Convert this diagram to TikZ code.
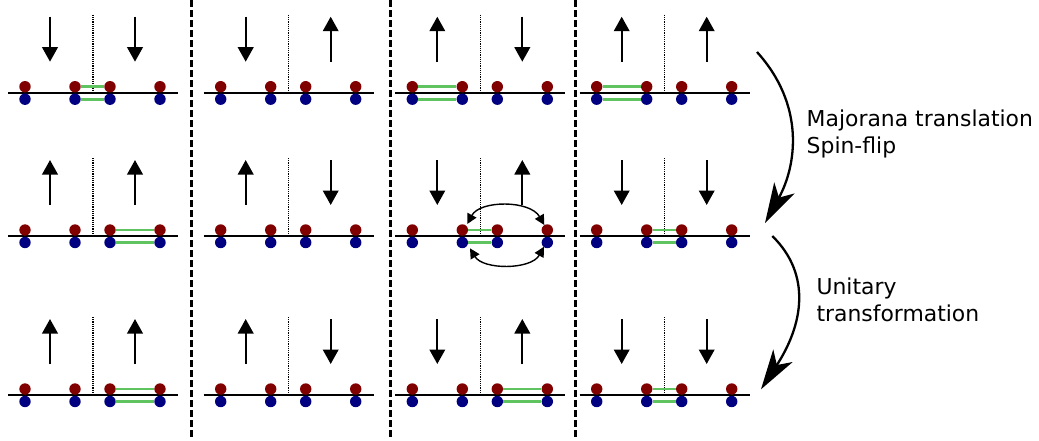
\documentclass[tikz,border=0pt]{standalone}
\usepackage{fontspec}
\setmainfont{DejaVu Sans}
\usetikzlibrary{arrows.meta}
\definecolor{dotred}{RGB}{128,0,0}
\definecolor{dotblue}{RGB}{0,0,128}
\definecolor{pairgreen}{RGB}{95,195,95}
\begin{document}
\begin{tikzpicture}[x=1pt,y=-1pt,
  chainline/.style={line width=2.3pt},
  sepline/.style={line width=2.8pt, dash pattern=on 7pt off 3pt},
  midline/.style={line width=1.5pt, dash pattern=on 1.2pt off 1pt},
  pairline/.style={pairgreen, line width=2.8pt},
  reddot/.style={circle, fill=dotred, inner sep=0pt, minimum size=11.4pt},
  bluedot/.style={circle, fill=dotblue, inner sep=0pt, minimum size=11.4pt},
  spinarrow/.style={line width=2.2pt, -{Triangle[width=15.5pt,length=14.5pt]}},
  swaparrow/.style={line width=1.4pt, {Triangle[width=10pt,length=10pt]}-{Triangle[width=10pt,length=10pt]}},
  flowarrow/.style={line width=2.3pt, -{Stealth[length=40pt,width=23pt,inset=11pt]}},
  lbl/.style={inner sep=0pt, anchor=base west, font=\fontsize{21.9}{26}\selectfont}
]
\useasboundingbox (0,0) rectangle (1039,440);
% separators
\foreach \sx/\nm in {191.7/s1, 390.7/s2, 575.5/s3} {
  \coordinate (\nm t) at (\sx,0);
  \coordinate (\nm b) at (\sx,440);
  \draw[sepline] (\nm t) -- (\nm b);
}
% panels
\foreach \name/\xx/\yy/\sl/\sr/\pa/\pb in {
 a/25/92.7/d/d/2/3, b/220.7/92.7/d/u/0/0, c/412.3/92.7/u/d/1/2, d/596.7/92.7/u/u/1/2,
 e/25/236/u/u/3/4, f/220.7/236/u/d/0/0, g/412.3/236/d/u/2/3, h/596.7/236/d/d/2/3,
 i/25/395/u/u/3/4, j/220.7/395/u/d/0/0, k/412.3/395/d/u/3/4, l/596.7/395/d/d/2/3}
{
  \coordinate (\name L) at (\xx-17,\yy);
  \coordinate (\name Rt) at (\xx+153,\yy);
  \draw[chainline] (\name L) -- (\name Rt);
  \coordinate (\name mt) at (\xx+68,\yy-78);
  \coordinate (\name mb) at (\xx+68,\yy-2.5);
  \draw[midline] (\name mt) -- (\name mb);
  \foreach \k/\dx in {1/0,2/50,3/85,4/135} {
    \node[reddot] (\name R\k) at (\xx+\dx,\yy-6) {};
    \node[bluedot] (\name B\k) at (\xx+\dx,\yy+6.5) {};
  }
  \ifnum\pa>0
    \draw[pairline] (\name R\pa) -- (\name R\pb);
    \draw[pairline] (\name B\pa) -- (\name B\pb);
  \fi
  \coordinate (\name al) at (\xx+25,\yy-31);
  \coordinate (\name ah) at (\xx+25,\yy-76);
  \coordinate (\name bl) at (\xx+110,\yy-31);
  \coordinate (\name bh) at (\xx+110,\yy-76);
  \if\sl u \draw[spinarrow] (\name al) -- (\name ah); \else \draw[spinarrow] (\name ah) -- (\name al); \fi
  \if\sr u \draw[spinarrow] (\name bl) -- (\name bh); \else \draw[spinarrow] (\name bh) -- (\name bl); \fi
}
% exchange arrows in panel g
\draw[swaparrow] ([xshift=5pt,yshift=6pt]gR2.center) .. controls +(12.7,-24) and +(-14.3,-25) .. ([xshift=-3pt,yshift=5pt]gR4.center);
\draw[swaparrow] ([xshift=7.7pt,yshift=-5.8pt]gB2.center) .. controls +(13,21.7) and +(-13,23.3) .. ([xshift=-3.3pt,yshift=-4.2pt]gB4.center);
% flow arrows
\coordinate (f1s) at (757,52);
\coordinate (f1e) at (765,223);
\draw[flowarrow] (f1s) .. controls (805,105) and (797,165) .. (f1e);
\coordinate (f2s) at (772.3,236);
\coordinate (f2e) at (761,389.3);
\draw[flowarrow] (f2s) .. controls (812,275) and (803,325) .. (f2e);
% labels
\node[lbl] (t1) at (806.5,126.7) {Majorana translation};
\node[lbl] (t2) at (806.5,153) {Spin-flip};
\node[lbl] (t3) at (816.3,294) {Unitary};
\node[lbl] (t4) at (816.3,321.5) {transformation};
\end{tikzpicture}
\end{document}
